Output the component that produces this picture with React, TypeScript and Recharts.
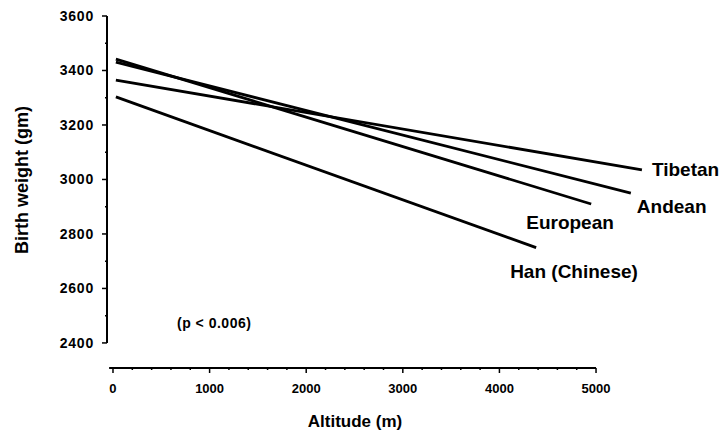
import React from 'react';
import { LineChart, Line, XAxis, YAxis, ReferenceLine, ReferenceDot, Label } from 'recharts';

// regression lines: birth weight vs altitude
const groups = ['Tibetan', 'Andean', 'European', 'Han (Chinese)'];
const startAltitude = [30, 30, 30, 30];
const endAltitude = [5475, 5360, 4950, 4380];
const startWeight = [3365, 3431, 3442, 3303];
const endWeight = [3035, 2950, 2910, 2750];

const yTicks = [2400, 2500, 2600, 2700, 2800, 2900, 3000, 3100, 3200, 3300, 3400, 3500, 3600];
const yLabels = [2400, 2600, 2800, 3000, 3200, 3400, 3600];
const xTicks = [0, 200, 400, 600, 800, 1000, 1200, 1400, 1600, 1800, 2000, 2200, 2400, 2600, 2800, 3000, 3200, 3400, 3600, 3800, 4000, 4200, 4400, 4600, 4800, 5000];
const xLabels = [0, 1000, 2000, 3000, 4000, 5000];

const pNote = '(p < 0.006)';
const pNoteAt = { alt: 660, weight: 2473 };

const font = '"Liberation Sans", Arial, sans-serif';

// where each name sits relative to the end of its line
const labelOffset: Record<string, { dx: number; dy: number }> = {
  Tibetan: { dx: 10, dy: 0 },
  Andean: { dx: 6, dy: 13 },
  European: { dx: -65, dy: 19 },
  'Han (Chinese)': { dx: -26, dy: 24 },
};

const series = groups.map((g, i) => ({
  name: g,
  data: [
    { alt: startAltitude[i], w: startWeight[i] },
    { alt: endAltitude[i], w: endWeight[i] },
  ],
}));

const YTick = (props: any) => {
  const { x, y, payload } = props;
  const major = yLabels.includes(payload.value);
  return (
    <g>
      <line x1={x} x2={x - (major ? 5 : 2)} y1={y} y2={y} stroke="#000" strokeWidth={1.5} />
      {major && (
        <text x={x - 13} y={y} textAnchor="end" dominantBaseline="central"
          fontFamily={font} fontWeight="bold" fontSize={14} letterSpacing={0.8} fill="#000">
          {payload.value}
        </text>
      )}
    </g>
  );
};

const XTick = (props: any) => {
  const { x, y, payload } = props;
  const major = xLabels.includes(payload.value);
  return (
    <g>
      <line x1={x} x2={x} y1={y} y2={y + (major ? 5 : 2)} stroke="#000" strokeWidth={1.5} />
      {major && (
        <text x={x} y={y + 20} textAnchor="middle" dominantBaseline="central"
          fontFamily={font} fontWeight="bold" fontSize={13} fill="#000">
          {payload.value}
        </text>
      )}
    </g>
  );
};

const endLabel = (name: string) => (props: any) => {
  const { x, y, index } = props;
  if (index !== 1) return null;
  const o = labelOffset[name];
  return (
    <text x={x + o.dx} y={y + o.dy} dominantBaseline="central"
      fontFamily={font} fontWeight="bold" fontSize={19} fill="#000">
      {name}
    </text>
  );
};

const App = () => {
  return (
    <div style={{ position: 'absolute', left: 0, top: 0, background: '#fff' }}>
      <LineChart width={721} height={433} margin={{ top: 16, right: 67, bottom: 0, left: 0 }}>
        <XAxis
          type="number"
          dataKey="alt"
          domain={[-62, 5600]}
          ticks={xTicks}
          interval={0}
          height={65}
          axisLine={false}
          tickLine={false}
          tickSize={0}
          tickMargin={0}
          tick={<XTick />}
          allowDataOverflow
        >
          <Label
            content={() => (
              <text x={355} y={427} textAnchor="middle" fontFamily={font} fontWeight="bold" fontSize={17} fill="#000">
                Altitude (m)
              </text>
            )}
          />
        </XAxis>
        <YAxis
          type="number"
          domain={[2308, 3600]}
          ticks={yTicks}
          interval={0}
          width={107}
          axisLine={false}
          tickLine={false}
          tickSize={0}
          tickMargin={0}
          tick={<YTick />}
          allowDataOverflow
        >
          <Label
            content={() => (
              <text x={28} y={180} transform="rotate(-90 28 180)" textAnchor="middle"
                fontFamily={font} fontWeight="bold" fontSize={18} fill="#000">
                Birth weight (gm)
              </text>
            )}
          />
        </YAxis>
        <ReferenceLine
          segment={[{ x: -62, y: 2400 }, { x: -62, y: 3600 }]}
          stroke="#000"
          strokeWidth={2}
          ifOverflow="visible"
        />
        <ReferenceLine
          segment={[{ x: -40, y: 2308 }, { x: 5000, y: 2308 }]}
          stroke="#000"
          strokeWidth={2}
          ifOverflow="visible"
        />
        <ReferenceDot
          x={pNoteAt.alt}
          y={pNoteAt.weight}
          r={0}
          fill="none"
          stroke="none"
          ifOverflow="visible"
          label={() => (
            <text x={177} y={323} dominantBaseline="central" fontFamily={font} fontWeight="bold" fontSize={14} letterSpacing={0.5} fill="#000">
              {pNote}
            </text>
          )}
        />
        {series.map((s) => (
          <Line
            key={s.name}
            data={s.data}
            dataKey="w"
            name={s.name}
            type="linear"
            stroke="#000"
            strokeWidth={2.8}
            dot={false}
            activeDot={false}
            isAnimationActive={false}
            label={endLabel(s.name)}
          />
        ))}
      </LineChart>
    </div>
  );
};

export default App;
